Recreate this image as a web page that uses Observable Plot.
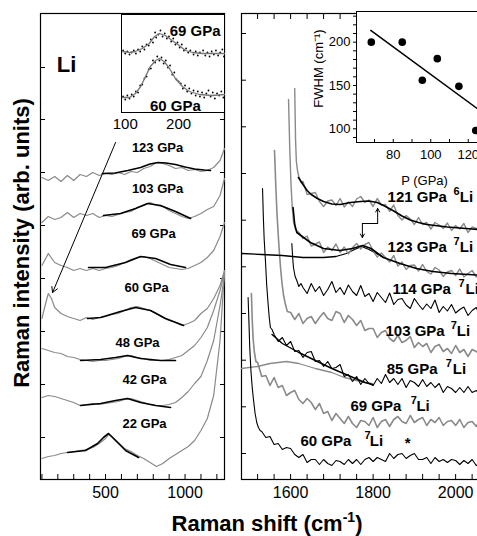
<!DOCTYPE html>
<html><head><meta charset="utf-8">
<script src="https://cdn.jsdelivr.net/npm/d3@7"></script>
<script src="https://cdn.jsdelivr.net/npm/@observablehq/plot@0.6"></script>
<style>
html,body{margin:0;padding:0;background:#fff;overflow:hidden}
#root{position:relative;width:477px;height:536px;overflow:hidden;background:#fff;font-family:"Liberation Sans",Arial,Helvetica,sans-serif}
.t{position:absolute;font-weight:bold;white-space:nowrap;color:#000;line-height:1}
.sup{font-size:14px;vertical-align:9px}
</style></head><body><div id="root"></div>
<script>
// ---------- LEFT PANEL (Raman shift 90-1250 cm-1) ----------
const leftXTicks = [100,200,300,400,500,600,700,800,900,1000,1100,1200];
const leftXTickLabels = [500, 1000];
const leftYTicks = [42,95,148,201,254,307,360,412];

const L123 = [[100,302],[140,299],[180,303],[220,298],[260,304],[300,299],[340,305],[380,303],[420,307],[460,304],[500,306],[540,305],[580,307],[620,305],[660,308],[700,307],[740,311],[780,313],[820,317],[860,316],[900,314],[940,311],[980,312],[1020,309],[1060,310],[1100,308],[1140,309],[1180,312],[1220,319],[1248,331]];
const F123 = [[480,306],[560,306.5],[640,309],[720,312],[780,315.5],[830,317],[880,316.5],[940,315],[1000,312.5],[1060,310.5],[1120,309.5],[1160,309]];
const L103 = [[100,257],[140,263],[180,260],[220,262],[260,267],[300,262],[340,266],[380,264],[420,266],[460,262],[500,264],[540,263],[580,265],[620,267],[660,268],[700,272],[740,274],[780,277],[820,274],[860,273],[900,269],[940,266],[980,263],[1020,261],[1060,263],[1100,266],[1140,270],[1180,273],[1220,284],[1248,301]];
const F103 = [[487,264],[594,266],[689,271],[764,276],[846,274],[940,268],[1035,261]];
const L69 = [[100,214],[140,226],[180,217],[220,214],[260,212],[300,209],[340,211],[380,209],[420,211],[460,209],[500,211],[540,212],[580,214],[620,217],[660,220],[700,222],[740,223],[780,221],[820,218],[860,215],[900,212],[940,211],[980,210],[1020,211],[1060,214],[1100,217],[1140,222],[1180,229],[1220,243],[1248,257]];
const F69 = [[393,212],[500,212],[626,217],[720,223],[815,221],[909,215],[1003,212]];
const L60 = [[100,161],[120,174],[140,186],[160,181],[180,172],[220,166],[260,163],[300,161],[340,159],[380,162],[420,160],[460,162],[500,163],[540,165],[580,166],[620,169],[660,172],[700,173],[740,171],[780,169],[820,166],[860,162],[900,159],[940,157],[980,154],[1020,156],[1060,159],[1100,166],[1140,171],[1180,181],[1220,194],[1248,209]];
const F60 = [[387,161],[469,162],[594,168],[689,172],[783,169],[877,161],[991,154]];
const L48 = [[100,131],[140,129],[180,127],[220,126],[260,123],[300,122],[340,120],[380,119],[420,118],[460,119],[500,119],[540,120],[580,121],[620,123],[660,124],[700,122],[740,121],[780,119],[820,119],[860,119],[900,120],[940,122],[980,124],[1020,129],[1060,134],[1100,142],[1140,152],[1180,169],[1220,189],[1248,207]];
const F48 = [[343,119],[469,120],[563,122],[638,124],[720,121],[846,119],[940,119]];
const L42 = [[100,82],[140,84],[180,83],[220,81],[260,79],[300,77],[340,74],[380,75],[420,76],[460,75],[500,76],[540,77],[580,78],[620,80],[660,81],[700,79],[740,77],[780,75],[820,74],[860,74],[900,75],[940,77],[980,82],[1020,88],[1060,96],[1100,103],[1140,119],[1180,139],[1220,174],[1248,204]];
const F42 = [[343,74],[469,76],[563,79],[638,81],[720,77],[815,74],[909,72]];
const L22 = [[100,21],[140,23],[180,24],[220,26],[260,27],[300,28],[340,29],[380,30],[420,32],[460,36],[500,41],[520,45],[540,43],[580,37],[620,31],[660,28],[700,24],[740,21],[780,17],[820,13],[860,16],[900,21],[940,25],[980,29],[1020,33],[1060,39],[1100,49],[1140,61],[1180,84],[1220,139],[1248,209]];
const F22 = [[261,27],[374,29],[450,36],[487,42],[519,46],[563,39],[626,29],[708,22]];

const leftLabelText = ["123 GPa","103 GPa","69 GPa","60 GPa","48 GPa","42 GPa","22 GPa"];
const leftLabelX = [827,827,802,758,701,745,745];
const leftLabelY = [332,291,246,192,137,100,56];
const leftArrow = [{x1:563, y1:337, x2:167, y2:187}];
const elementLabel = [{x:255, y:415, t:"Li"}];

// ---------- LEFT INSET (low-frequency region) ----------
const insetXTickLabels = [100, 200];
const fit69 = [[95,61],[108,60],[119,61],[132,64],[145,69],[155,76],[164,79],[175,77],[188,72],[201,67],[213,62],[226,60],[244,59],[263,59],[286,59]];
const fit60 = [[95,15],[108,15],[119,19],[129,26],[138,36],[147,46],[157,52],[164,54],[173,51],[183,44],[194,34],[207,26],[220,21],[239,18],[263,17],[286,18]];
const dots69 = [[96,62],[100,59],[104,61],[108,58],[112,60],[116,62],[120,59],[124,63],[128,61],[132,66],[136,63],[140,68],[144,67],[148,73],[152,70],[156,80],[158,75],[162,78],[166,82],[170,76],[174,79],[178,74],[182,76],[186,71],[190,74],[194,68],[198,70],[202,65],[206,68],[210,62],[214,64],[218,60],[222,62],[228,58],[232,61],[236,57],[240,60],[246,62],[250,57],[254,60],[258,56],[262,61],[266,58],[270,62],[274,57],[278,60],[282,63],[285,56]];
const dots60 = [[96,16],[100,13],[104,17],[108,14],[112,18],[116,16],[120,21],[124,20],[128,27],[132,28],[136,34],[140,36],[144,43],[148,44],[152,52],[156,50],[160,56],[164,52],[168,55],[172,49],[176,52],[180,45],[184,47],[188,38],[192,40],[196,33],[200,31],[204,29],[208,24],[212,27],[216,21],[220,24],[224,19],[228,22],[232,17],[236,21],[240,16],[244,20],[248,15],[252,19],[256,22],[260,16],[264,20],[268,14],[272,19],[276,17],[280,21],[284,15]];
const insetLabels = [{x:231, y:81, t:"69 GPa"}, {x:194, y:6, t:"60 GPa"}];

// ---------- RIGHT PANEL (1480-2100 cm-1) ----------
const rightXTicks = [1520,1560,1600,1640,1680,1720,1760,1800,1840,1880,1920,1960,2000,2040,2080,2120,2160];
const rightXTickLabels = [1600, 1800, 2000];
const rightYTicks = [26,72.7,119.3,166,212.7,259.3,306,352.7,399.3,446];

const R121 = [[1610,391],[1612,340],[1614,318],[1617,308],[1620,303],[1625,297],[1630,298],[1640,285],[1650,286],[1660,287],[1670,278],[1680,273],[1690,278.5],[1700,279.5],[1710,274],[1720,281],[1730,272.5],[1740,277.5],[1750,273],[1760,280.5],[1770,283],[1780,277],[1790,279.5],[1800,273],[1810,281],[1820,274.5],[1830,275],[1840,268],[1850,274.5],[1860,264],[1870,259.5],[1880,264],[1890,260.5],[1900,255],[1910,262],[1920,255],[1930,257],[1940,250.5],[1950,257],[1960,254.5],[1970,251],[1980,256.5],[1990,249],[2000,254],[2010,250.5],[2020,256],[2030,247],[2040,252.5],[2050,251],[2060,247],[2070,252.5]];
const RF121 = [[1619,302],[1630,295],[1640,289],[1650,285],[1665,281],[1680,278],[1700,275.5],[1720,275],[1745,277],[1770,278],[1790,278.5],[1810,277],[1830,273],[1850,268.5],[1870,263.5],[1890,259.5],[1910,257],[1930,255],[1950,254],[1980,252.5],[2010,251.5],[2040,250.5],[2070,249.5]];
const R123 = [[1595,380],[1598,330],[1601,295],[1604,272],[1607,258],[1612,250],[1620,247],[1630,241],[1640,243.5],[1650,233.5],[1660,235.5],[1670,237.5],[1680,227],[1690,232.5],[1700,229],[1710,235.5],[1720,227],[1730,232.5],[1740,225.5],[1750,232],[1760,236],[1770,230.5],[1780,235],[1790,237],[1800,228.5],[1810,222.5],[1820,226.5],[1830,222],[1840,217.5],[1850,224],[1860,213.5],[1870,217.5],[1880,210],[1890,214],[1900,214.5],[1910,208.5],[1920,215],[1930,208],[1940,205.5],[1950,212],[1960,209.5],[1970,203],[1980,207.5],[1990,209],[2000,204],[2010,210.5],[2020,202.5],[2030,206],[2040,209],[2050,202.5],[2060,206],[2070,201]];
const RF123 = [[1606,272],[1610,255],[1615,247],[1625,244],[1648,237],[1680,231],[1720,229],[1750,231],[1775,234],[1795,231],[1825,222],[1865,216],[1905,211],[1945,208],[1990,206],[2070,204]];
const RE = [[1481,226],[1530,225],[1580,224],[1630,222],[1680,222],[1710,223],[1735,226],[1755,230],[1772,233],[1790,230],[1808,226],[1825,222]];
const R114 = [[1603,236],[1605,222],[1607,212],[1611,203],[1615,199],[1620,193],[1625,196],[1630,192],[1640,186],[1650,196],[1660,188],[1670,193],[1680,184],[1690,190],[1700,198],[1710,187],[1720,192],[1730,185],[1740,194.5],[1750,188],[1760,184],[1770,194],[1780,183],[1790,186],[1800,178],[1810,187],[1820,182],[1830,177],[1840,186.5],[1850,175],[1860,180],[1870,181],[1880,174.5],[1890,171],[1900,181],[1910,175],[1920,170],[1930,175.5],[1940,171],[1950,179.5],[1960,167],[1970,173],[1980,168.5],[1990,175],[2000,166.5],[2010,170],[2020,172.5],[2030,164],[2040,169],[2050,172],[2060,162.5],[2070,166]];
const R103 = [[1561,329],[1564,295],[1567,266],[1570,245],[1573,226],[1576,210],[1579,197],[1583,184],[1587,176],[1592,168],[1600,167],[1610,160],[1620,166],[1630,156],[1640,161],[1650,163],[1660,156],[1670,162],[1680,167],[1690,161],[1700,159],[1710,168],[1720,166],[1730,157],[1740,164],[1750,160],[1760,154],[1770,159],[1780,149],[1790,151],[1800,151],[1810,142],[1820,147],[1830,149],[1840,141],[1850,138],[1860,144],[1870,137],[1880,139],[1890,143],[1900,132],[1910,137],[1920,133],[1930,136],[1940,127],[1950,133],[1960,135],[1970,128],[1980,131],[1990,126],[2000,134],[2010,127],[2020,130],[2030,123],[2040,130],[2050,128],[2060,124],[2070,130]];
const R85 = [[1532,291],[1534,262],[1536,240],[1539,219],[1542,195],[1545,178],[1548,163],[1551,152],[1555,150],[1560,145],[1570,138],[1580,142],[1590,134],[1600,138],[1610,128],[1620,129],[1630,122],[1640,127],[1650,128],[1660,118],[1670,119],[1680,113],[1690,118],[1700,111],[1710,112],[1720,115],[1730,103],[1740,105],[1750,98],[1760,103],[1770,95],[1780,101],[1790,96],[1800,94],[1810,101],[1820,96],[1830,105],[1840,97],[1850,101],[1860,95],[1870,101],[1880,92],[1890,99],[1900,97],[1910,93],[1920,100],[1930,93],[1940,97],[1950,92],[1960,96],[1970,87],[1980,93],[1990,91],[2000,87],[2010,92],[2020,87],[2030,93],[2040,87],[2050,89],[2060,84],[2070,90]];
const RF85 = [[1555,145],[1580,136],[1620,127],[1660,119],[1700,111],[1740,104],[1780,97],[1800,95]];
const RH = [[1481,111],[1520,113],[1550,116],[1590,118],[1620,116],[1660,111],[1700,107],[1730,102],[1760,99],[1795,96]];
const R69 = [[1505,186],[1507,160],[1509,142],[1512,128],[1516,118],[1520,117],[1530,103],[1540,104],[1550,94],[1560,102],[1570,92],[1580,94],[1590,84],[1600,87],[1610,89],[1620,80],[1630,76],[1640,81],[1650,77],[1660,70],[1670,76],[1680,66],[1690,68],[1700,59],[1710,66],[1720,61],[1730,56],[1740,63],[1750,56],[1760,52],[1770,59],[1780,58],[1790,54],[1800,62],[1810,52],[1820,58],[1830,60],[1840,53],[1850,60],[1860,63],[1870,58],[1880,56],[1890,64],[1900,57],[1910,60],[1920,62],[1930,54],[1940,60],[1950,57],[1960,62],[1970,54],[1980,58],[1990,59],[2000,54],[2010,60],[2020,52],[2030,57],[2040,58],[2050,53],[2060,61],[2070,54]];
const R60 = [[1497,182],[1499,158],[1501,132],[1504,108],[1507,92],[1510,80],[1514,66],[1518,57],[1522,52],[1526,49],[1530,48],[1540,42],[1550,43],[1560,35],[1570,36],[1580,30],[1590,32],[1600,31],[1610,25],[1620,22],[1630,25],[1640,17],[1650,20],[1660,20],[1670,15],[1680,20],[1690,16],[1700,14],[1710,19],[1720,18],[1730,15],[1740,20],[1750,16],[1760,20],[1770,15],[1780,20],[1790,22],[1800,18],[1810,22],[1820,20],[1830,18],[1840,26],[1850,21],[1860,25],[1870,26],[1880,21],[1890,24],[1900,26],[1910,20],[1920,20],[1930,22],[1940,16],[1950,22],[1960,18],[1970,20],[1980,17],[1990,20],[2000,19],[2010,15],[2020,19],[2030,16],[2040,20],[2050,14],[2060,17],[2070,15]];

const rightLabelText = ["121 GPa","123 GPa","114 GPa","103 GPa","85 GPa","69 GPa","60 GPa"];
const rightLabelIso = ["6","7","7","7","7","7","7"];
const rightLabelX = [1835,1835,1847,1830,1833,1745,1624];
const rightLabelY = [282,232,190,148,110,73,38];
const rightIsoX = [1995,1995,2007,1988,1976,1891,1779];
const rightLiX = [2010,2010,2024,2003,1993,1905,1792];
const starMark = [{x:1884, y:36, t:"*"}];
const shiftDown = [{x1:1774, y1:256, x2:1774, y2:242}];
const shiftUp = [{x1:1811, y1:256, x2:1811, y2:271}];
const shiftLink = [[1774,256],[1811,256]];

// ---------- RIGHT INSET (FWHM vs P) ----------
const pressure = [68.3, 84.8, 95.5, 103.5, 115, 124];
const fwhm = [200, 200, 156, 181, 149, 98];
const fwhmTrend = [[68,213.5],[125,123]];
const insetPTicks = [70,80,90,100,110,120,130];
const insetFTicks = [90,100,110,120,130,140,150,160,170,180,190,200,210,220,230];
const insetFTickLabels = [100,150,200];
// bottom-row texts of the inset: tick labels 80/100/120 and the axis title
const insetBottomText = ["80", "100", "120", "P (GPa)"];
const insetBottomX = [80, 100, 120, 96.7];
const insetBottomY = [70.3, 70.3, 70.3, 40.3];
const insetYTitle = [{x: 40.1, y: 169.6, t: "FWHM (cm\u207B\u00B9)"}];

// ---------- DRAW ----------
const FONT = '"Liberation Sans", Arial, Helvetica, sans-serif';
const GRAY = "#8a8a8a";
const root = document.getElementById("root");
const pos = (l, t) => ({position:"absolute", left:l+"px", top:t+"px", background:"transparent", maxWidth:"none", overflow:"visible", fontFamily:FONT});
const spec = (data, stroke, w) => Plot.line(data, {x: d => d[0], y: d => d[1], stroke, strokeWidth: w});
const blank = () => "";
const plain = d => String(d);

const leftLabels = leftLabelText.map((t, i) => ({t, x: leftLabelX[i], y: leftLabelY[i]}));
const left = Plot.plot({
  width: 232, height: 536, marginLeft: 40, marginRight: 8, marginTop: 13, marginBottom: 57,
  style: pos(0, 0),
  x: {domain: [91, 1248], label: null}, y: {domain: [0, 466], label: null},
  marks: [
    Plot.frame({stroke: "#000", strokeWidth: 1.2}),
    Plot.axisX(leftXTicks, {tickSize: -5, tickFormat: blank, label: null}),
    Plot.axisX(leftXTickLabels, {tickSize: 0, tickPadding: 7, fontSize: 16, tickFormat: plain, label: null}),
    Plot.axisY(leftYTicks, {anchor: "left", tickSize: -5, tickFormat: blank, label: null}),
    Plot.axisY(leftYTicks, {anchor: "right", tickSize: -5, tickFormat: blank, label: null}),
    ...[L123, L103, L69, L60, L48, L42, L22].map(d => spec(d, GRAY, 1.2)),
    ...[F123, F103, F69, F60, F48, F42, F22].map(d => spec(d, "#000", 1.6)),
    Plot.text(leftLabels, {x: "x", y: "y", text: "t", fontSize: 13, fontWeight: "bold"}),
    Plot.text(elementLabel, {x: "x", y: "y", text: "t", fontSize: 22, fontWeight: "bold"}),
    Plot.arrow(leftArrow, {x1: "x1", y1: "y1", x2: "x2", y2: "y2", stroke: "#000", strokeWidth: 1, headLength: 9})
  ]
});
root.appendChild(left);

const leftInset = Plot.plot({
  width: 105, height: 125, marginLeft: 1, marginRight: 1, marginTop: 1, marginBottom: 26,
  style: pos(120, 13),
  x: {domain: [93, 286], label: null}, y: {domain: [0, 98], axis: null, label: null},
  marks: [
    Plot.frame({fill: "#fff", stroke: "#000", strokeWidth: 1}),
    Plot.axisX(insetXTickLabels, {tickSize: 0, tickPadding: 6, fontSize: 15, tickFormat: plain, label: null}),
    Plot.dot(dots69, {x: d => d[0], y: d => d[1], r: 0.9, fill: "#000", stroke: null}),
    Plot.dot(dots60, {x: d => d[0], y: d => d[1], r: 0.9, fill: "#000", stroke: null}),
    spec(fit69, "#777", 1.3),
    spec(fit60, "#777", 1.3),
    Plot.text(insetLabels, {x: "x", y: "y", text: "t", fontSize: 15, fontWeight: "bold"})
  ]
});
root.appendChild(leftInset);

const rightLabels = rightLabelText.map((t, i) => ({t, iso: rightLabelIso[i], x: rightLabelX[i], y: rightLabelY[i], ix: rightIsoX[i], lx: rightLiX[i]}));
const right = Plot.plot({
  width: 300, height: 536, marginLeft: 5, marginRight: 0, marginTop: 13, marginBottom: 57,
  style: pos(236, 0),
  x: {domain: [1481, 2196], label: null}, y: {domain: [0, 466], label: null},
  marks: [
    Plot.frame({stroke: "#000", strokeWidth: 1.2}),
    Plot.axisX(rightXTicks, {anchor: "bottom", tickSize: -5, tickFormat: blank, label: null}),
    Plot.axisX(rightXTicks, {anchor: "top", tickSize: -5, tickFormat: blank, label: null}),
    Plot.axisX(rightXTickLabels, {anchor: "bottom", tickSize: 0, tickPadding: 7, fontSize: 16, tickFormat: plain, label: null}),
    Plot.axisY(rightYTicks, {anchor: "left", tickSize: -5, tickFormat: blank, label: null}),
    spec(RH, GRAY, 1.3),
    spec(R60, "#000", 1.1),
    spec(R69, GRAY, 1.6),
    spec(R85, "#000", 1.1),
    spec(RF85, "#000", 1.4),
    spec(R103, GRAY, 1.6),
    spec(R114, "#000", 1.1),
    spec(RE, "#000", 1.3),
    spec(R123, GRAY, 1.4),
    spec(RF123, "#000", 1.6),
    spec(R121, GRAY, 1.4),
    spec(RF121, "#000", 1.6),
    Plot.text(rightLabels, {x: "x", y: "y", text: "t", textAnchor: "start", fontSize: 15, fontWeight: "bold"}),
    Plot.text(rightLabels, {x: "ix", y: d => d.y + 6, text: "iso", textAnchor: "start", fontSize: 11, fontWeight: "bold"}),
    Plot.text(rightLabels, {x: "lx", y: "y", text: () => "Li", textAnchor: "start", fontSize: 15, fontWeight: "bold"}),
    Plot.text(starMark, {x: "x", y: "y", text: "t", fontSize: 15, fontWeight: "bold"}),
    spec(shiftLink, "#000", 1),
    Plot.arrow(shiftDown, {x1: "x1", y1: "y1", x2: "x2", y2: "y2", stroke: "#000", strokeWidth: 1, headLength: 6}),
    Plot.arrow(shiftUp, {x1: "x1", y1: "y1", x2: "x2", y2: "y2", stroke: "#000", strokeWidth: 1, headLength: 6})
  ]
});
root.appendChild(right);

const fwhmPts = pressure.map((p, i) => ({p, w: fwhm[i]}));
const insetBottom = insetBottomText.map((t, i) => ({t, x: insetBottomX[i], y: insetBottomY[i]}));
const rightInset = Plot.plot({
  width: 200, height: 195, marginLeft: 56, marginRight: 0, marginTop: 11, marginBottom: 53,
  style: pos(300, 0),
  x: {domain: [60.4, 137.2], label: null}, y: {domain: [84.2, 235.4], label: null},
  marks: [
    Plot.frame({fill: "#fff", stroke: "#000", strokeWidth: 1}),
    Plot.axisY(insetFTicks, {anchor: "left", tickSize: 3, tickFormat: blank, label: null}),
    Plot.axisX(insetPTicks, {anchor: "bottom", tickSize: -3, tickFormat: blank, label: null}),
    Plot.text(insetFTickLabels, {x: () => 60.4, y: d => d, text: plain, textAnchor: "end", dx: -6, fontSize: 13}),
    Plot.text(insetBottom, {x: "x", y: "y", text: "t", fontSize: 13, fill: "#000"}),
    Plot.text(insetYTitle, {x: "x", y: "y", text: "t", rotate: -90, fontSize: 13}),
    spec(fwhmTrend, "#000", 1.5),
    Plot.dot(fwhmPts, {x: "p", y: "w", r: 3.8, fill: "#000", stroke: null})
  ]
});
root.appendChild(rightInset);

const yTitle = document.createElement("div");
yTitle.className = "t";
yTitle.style.cssText = "left:22px;top:243px;font-size:22px;transform:translate(-50%,-50%) rotate(-90deg)";
yTitle.textContent = "Raman intensity (arb. units)";
root.appendChild(yTitle);
const xTitle = document.createElement("div");
xTitle.className = "t";
xTitle.style.cssText = "left:267px;top:522px;font-size:22px;transform:translate(-50%,-50%)";
xTitle.innerHTML = 'Raman shift (cm<span class="sup">-1</span>)';
root.appendChild(xTitle);
</script></body></html>
